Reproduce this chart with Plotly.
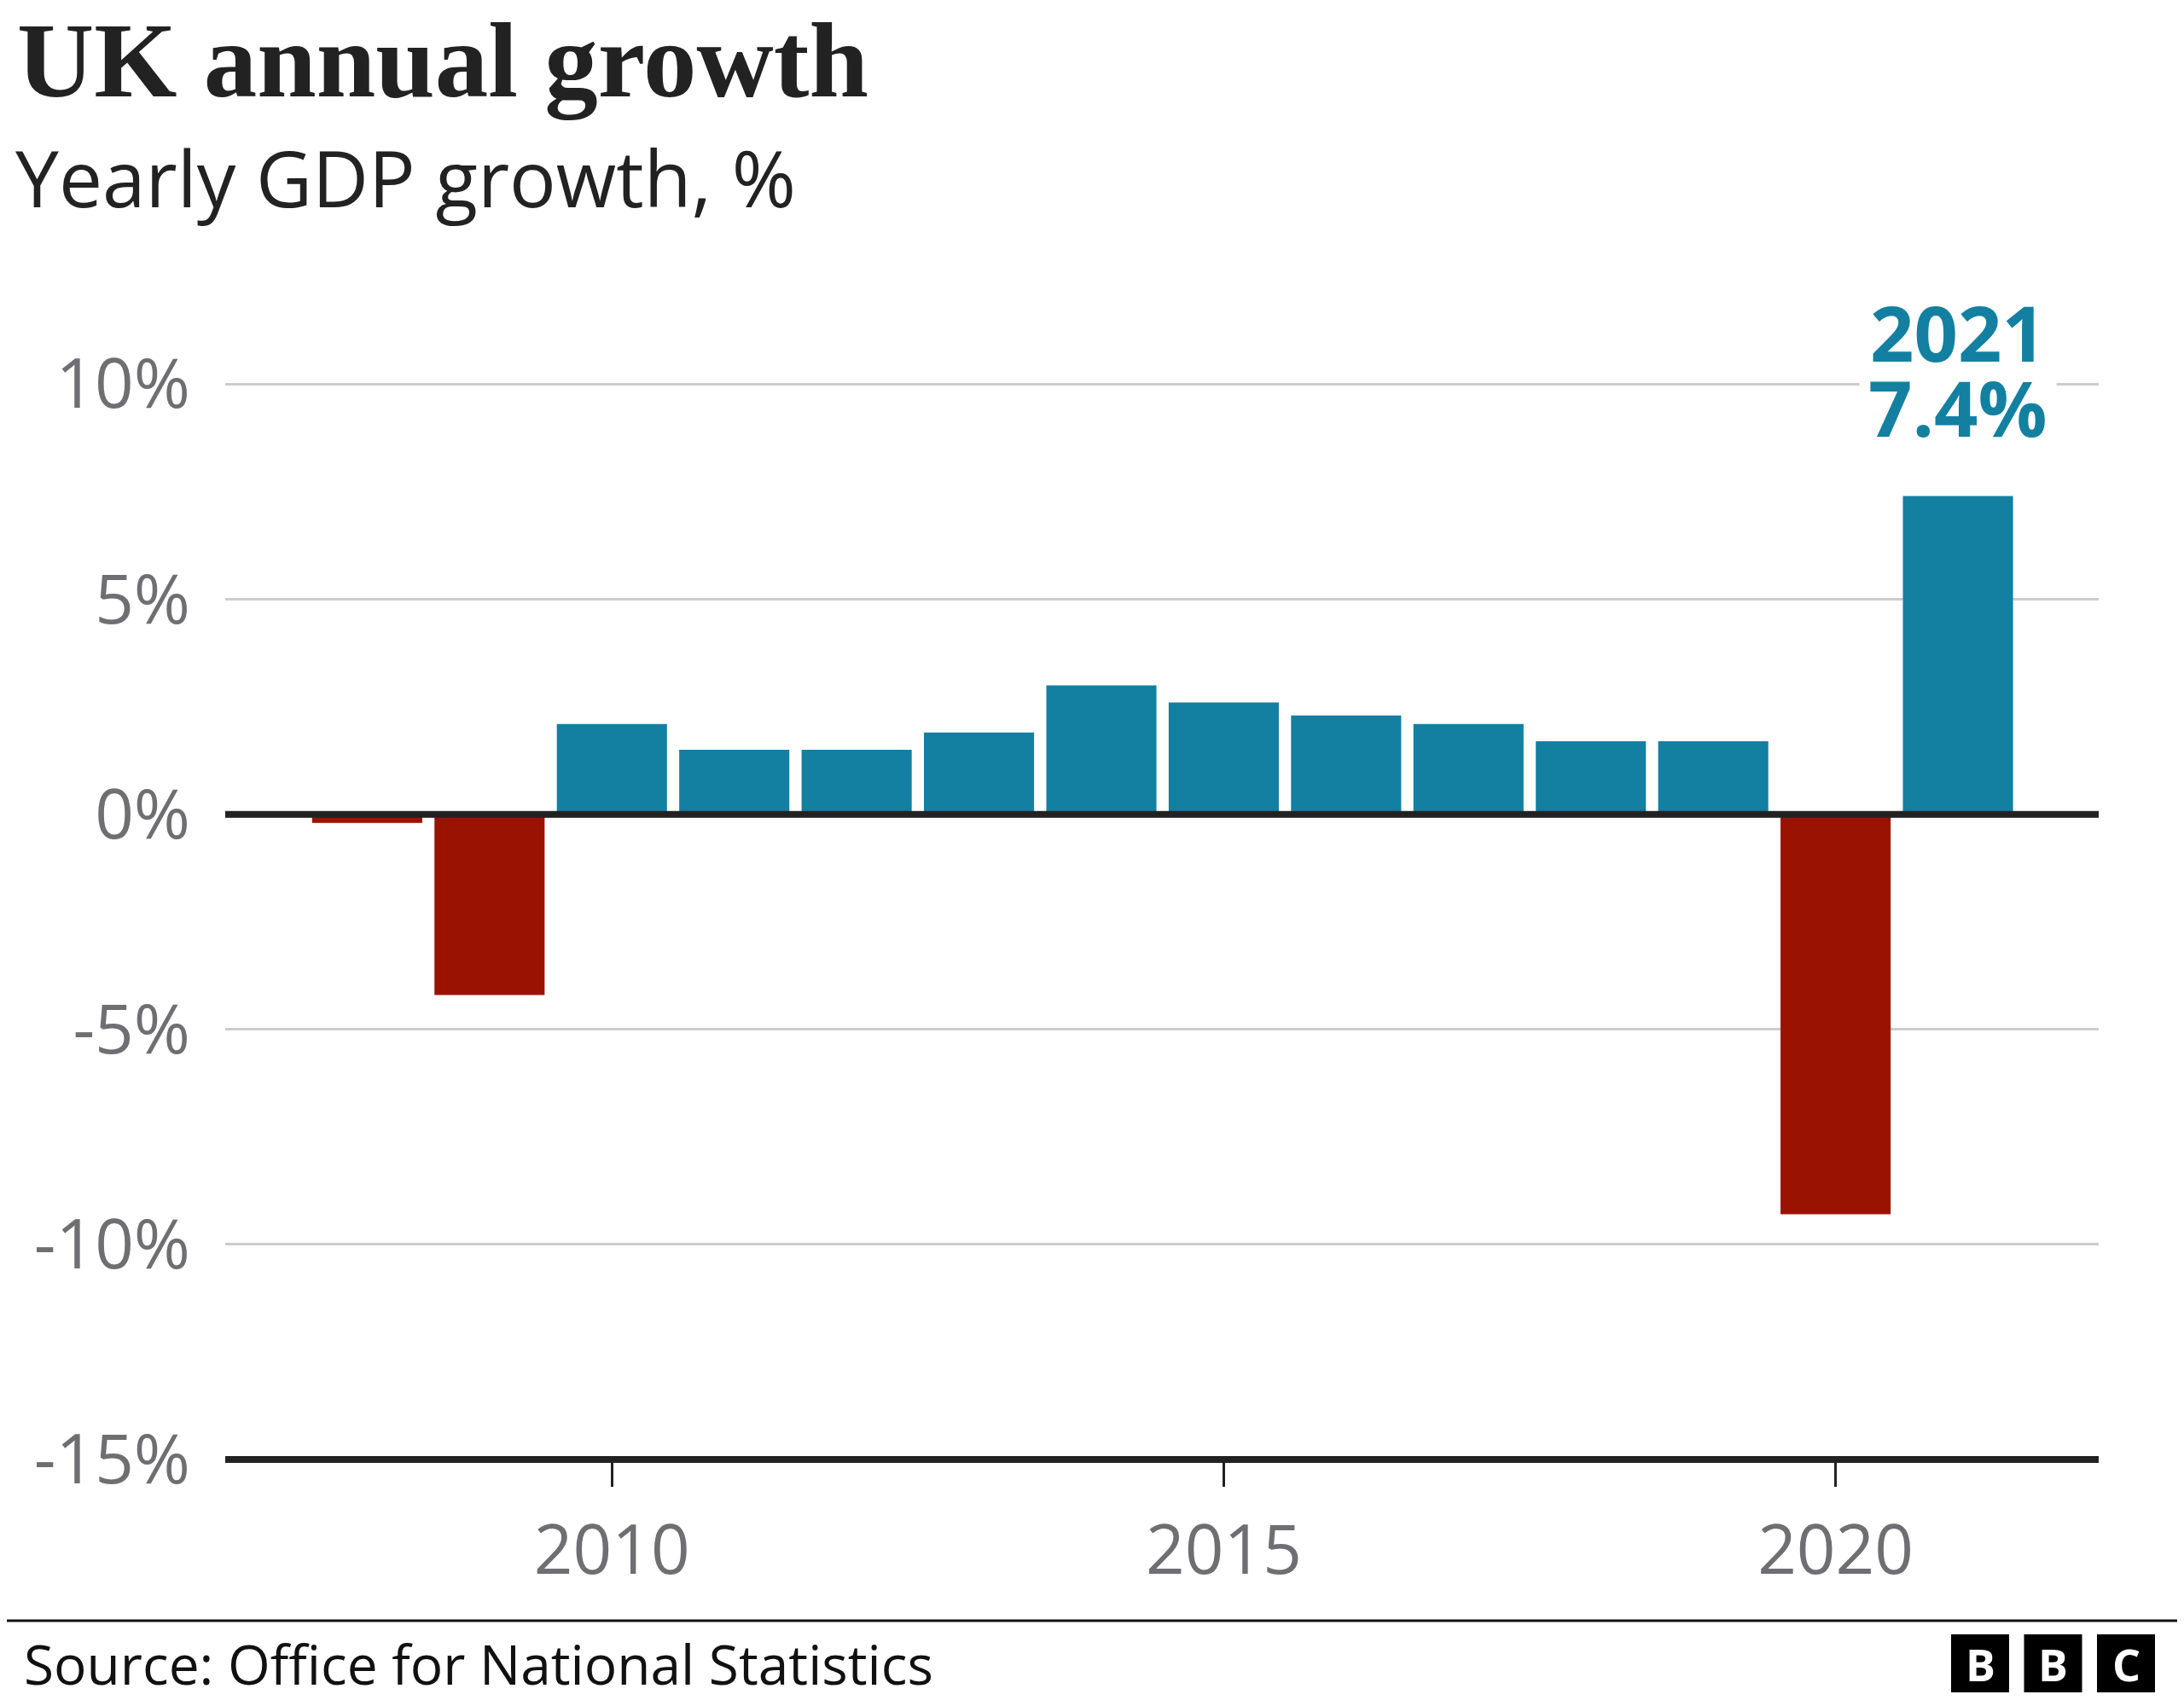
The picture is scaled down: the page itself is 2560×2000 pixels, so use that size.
import plotly.graph_objects as go

# ---- data ----
years = [2008, 2009, 2010, 2011, 2012, 2013, 2014, 2015, 2016, 2017, 2018, 2019, 2020, 2021]
growth = [-0.2, -4.2, 2.1, 1.5, 1.5, 1.9, 3.0, 2.6, 2.3, 2.1, 1.7, 1.7, -9.3, 7.4]
y_tickvals = [-15, -10, -5, 0, 5, 10]
y_ticktext = ["-15%", "-10%", "-5%", "0%", "5%", "10%"]
x_tickvals = [2010, 2015, 2020]
x_ticktext = ["2010", "2015", "2020"]
highlight_year = "2021"
highlight_value = "7.4%"

BLUE = "#1380A1"
RED = "#991300"
GREY = "#6e6e73"
DARK = "#222222"

W, H = 2560, 2000
O = 8                     # page body margin offset
L, R = 264, 2460          # plot area pixel x (page coords)
T, B = 400, 1711          # plot area pixel y (page coords)
YMIN, YMAX = -15, 11
XMIN, XMAX = 2006.84, 2022.15


def px(x):
    return (x - L) / (R - L)


def py(y):
    return (B - y) / (B - T)


colors = [BLUE if v >= 0 else RED for v in growth]

fig = go.Figure()
fig.add_trace(go.Bar(x=years, y=growth, marker=dict(color=colors, line=dict(width=0)),
                     hoverinfo="x+y"))

shapes = [
    # zero line
    dict(type="line", xref="paper", yref="y", x0=0, x1=1, y0=0, y1=0,
         line=dict(color=DARK, width=8), layer="above"),
    # bottom axis line
    dict(type="line", xref="paper", yref="paper", x0=0, x1=1, y0=0, y1=0,
         line=dict(color=DARK, width=8), layer="above"),
    # footer rule
    dict(type="line", xref="paper", yref="paper", x0=px(O), x1=px(W), y0=py(1900), y1=py(1900),
         line=dict(color="#111111", width=3)),
]

annotations = [
    dict(text="<b>UK annual growth</b>", xref="paper", yref="paper", x=px(18), y=py(72),
         xanchor="left", yanchor="middle", showarrow=False,
         font=dict(family="Liberation Serif", size=125, color=DARK)),
    dict(text="Yearly GDP growth, %", xref="paper", yref="paper", x=px(16), y=py(208),
         xanchor="left", yanchor="middle", showarrow=False,
         font=dict(family="Open Sans", size=91, color=DARK)),
    dict(text="Source: Office for National Statistics", xref="paper", yref="paper",
         x=px(26), y=py(1950), xanchor="left", yanchor="middle", showarrow=False,
         font=dict(family="Open Sans", size=64, color="#111111")),
    dict(text="<b>" + highlight_value + "</b>", xref="x", yref="paper", x=2021, y=py(477),
         xanchor="center", yanchor="middle", showarrow=False, bgcolor="white", borderpad=10,
         font=dict(family="Open Sans", size=90, color=BLUE)),
    dict(text="<b>" + highlight_year + "</b>", xref="x", yref="paper", x=2021, y=py(389),
         xanchor="center", yanchor="middle", showarrow=False,
         font=dict(family="Open Sans", size=90, color=BLUE)),
]

# BBC logo blocks
for i, letter in enumerate(["B", "B", "C"]):
    x0 = 2287 + i * 85.5
    shapes.append(dict(type="rect", xref="paper", yref="paper", x0=px(x0), x1=px(x0 + 68),
                       y0=py(1984), y1=py(1916), fillcolor="#000000", line=dict(width=0)))
    annotations.append(dict(text="<b>" + letter + "</b>", xref="paper", yref="paper",
                            x=px(x0 + 34), y=py(1950), xanchor="center", yanchor="middle",
                            showarrow=False, font=dict(family="Open Sans", size=52, color="white")))

fig.update_layout(
    width=W - O, height=H - O,
    margin=dict(l=L - O, r=W - R, t=T - O, b=H - B, pad=0),
    paper_bgcolor="white", plot_bgcolor="white",
    bargap=0.1,
    showlegend=False,
    shapes=shapes,
    annotations=annotations,
    font=dict(family="Open Sans", color=GREY),
)
fig.update_xaxes(range=[XMIN, XMAX], tickmode="array", tickvals=x_tickvals, ticktext=x_ticktext,
                 ticks="outside", ticklen=31, tickwidth=3, tickcolor=DARK,
                 showgrid=False, zeroline=False, showline=False,
                 tickfont=dict(family="Open Sans", size=80, color=GREY), ticklabelstandoff=6)
fig.update_yaxes(range=[YMIN, YMAX], tickmode="array", tickvals=y_tickvals, ticktext=y_ticktext,
                 ticks="", showgrid=True, gridcolor="#cccccc", gridwidth=3,
                 zeroline=False, showline=False,
                 tickfont=dict(family="Open Sans", size=80, color=GREY), ticklabelstandoff=40)

fig.write_html("out.html")
